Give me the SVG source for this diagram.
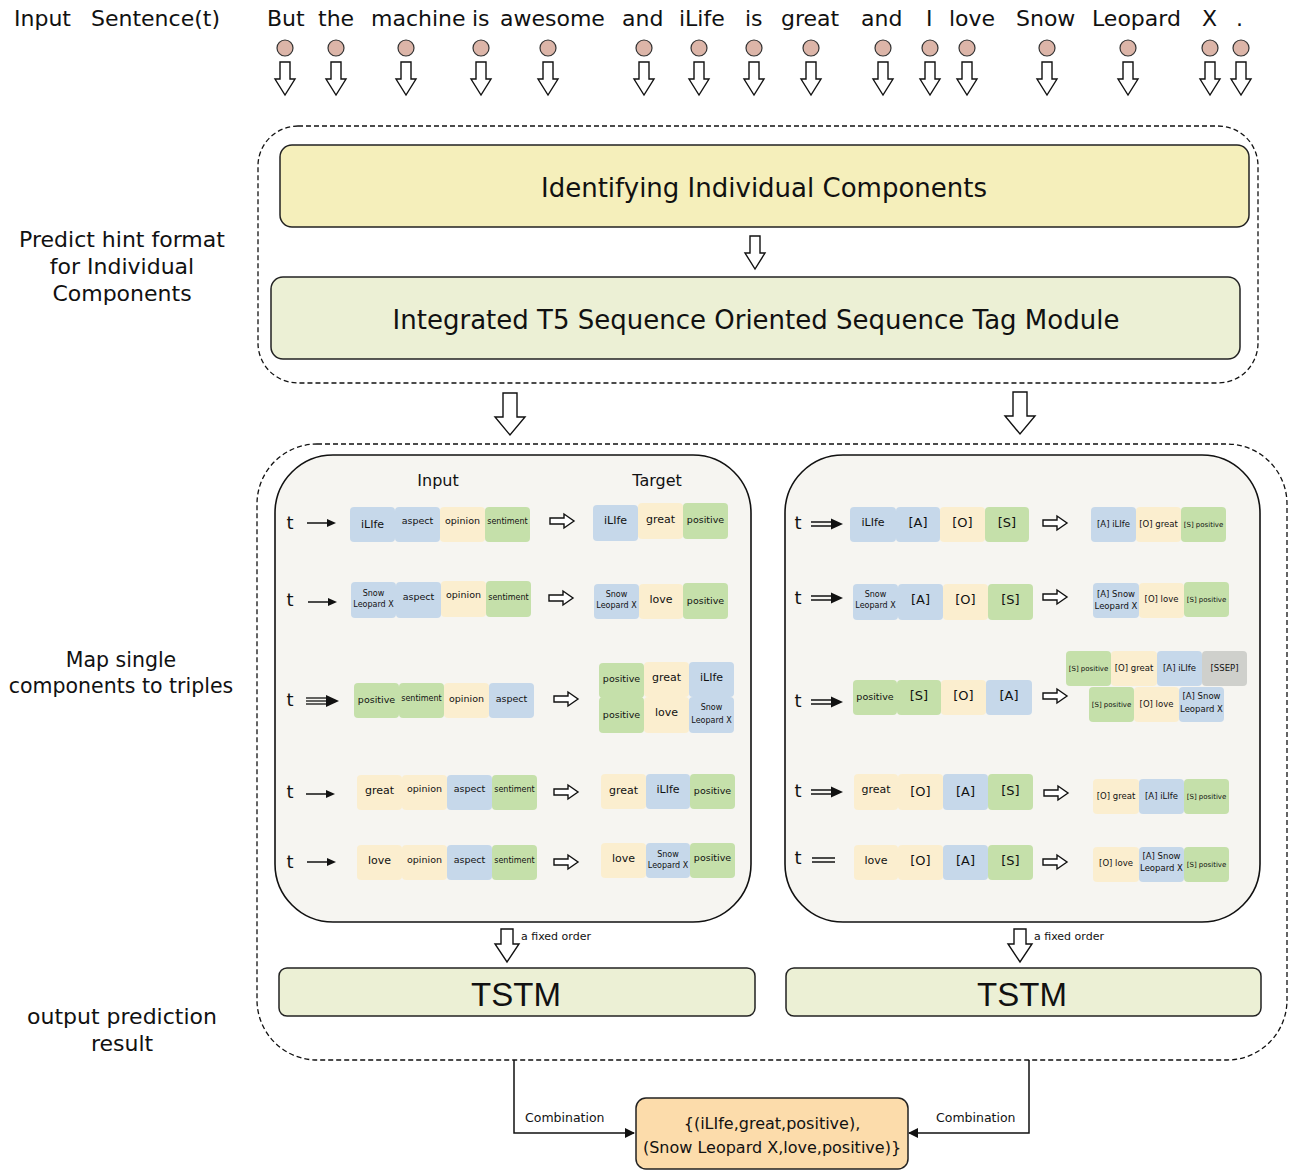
<svg xmlns="http://www.w3.org/2000/svg" xmlns:xlink="http://www.w3.org/1999/xlink" width="1298" height="1170" viewBox="0 0 1298 1170">
<style>
text{font-family:"DejaVu Sans","Verdana",sans-serif;fill:#111}
.lbl{font-size:22px;text-anchor:middle}
.w{font-size:22px}
.big{font-size:26px;text-anchor:middle}
.hd{font-size:16px;text-anchor:middle}
.t{font-size:18px;text-anchor:middle}
.c{text-anchor:middle}
.s11{font-size:11px}.s13{font-size:13px}.s95{font-size:9.5px}.s8{font-size:8px}.s85{font-size:8.5px}.s7{font-size:7px}
.cb{fill:#c6d8ea}.cy{fill:#fbeecf}.cg{fill:#c5e0aa}.cgr{fill:#cfd0cc}
.hollow{fill:#fff;stroke:#111;stroke-width:1.4;stroke-linejoin:miter}
.dash{fill:none;stroke:#111;stroke-width:1.3;stroke-dasharray:5 3}
.panel{fill:#f6f5f1;stroke:#111;stroke-width:1.6}
.box{stroke:#222;stroke-width:1.5}
.ln{stroke:#111;stroke-width:1.5;fill:none}
.tok{fill:#dcb5a8;stroke:#333;stroke-width:1.2}
</style>
<defs>
<path id="da" class="hollow" d="M-5,0 H5 V17 H10 L0,33 L-10,17 H-5 Z"/>
<path id="dbig" class="hollow" d="M-7,0 H7 V24 H15 L0,42 L-15,24 H-7 Z"/>
<path id="dfix" class="hollow" d="M-6,0 H6 V15 H12 L0,33 L-12,15 H-6 Z"/>
<path id="ha" class="hollow" d="M0,-3 H14 V-7 L24,0 L14,7 V3 H0 Z"/>
<g id="sa"><line x1="0" y1="0" x2="22" y2="0" stroke="#111" stroke-width="1.5"/><polygon points="20,-4 29,0 20,4" fill="#111"/></g>
<g id="dba"><line x1="0" y1="-2" x2="22" y2="-2" stroke="#111" stroke-width="1.5"/><line x1="0" y1="2" x2="22" y2="2" stroke="#111" stroke-width="1.5"/><polygon points="20,-5.5 32,0 20,5.5" fill="#111"/></g>
<g id="tra"><line x1="0" y1="-3" x2="22" y2="-3" stroke="#111" stroke-width="1.3"/><line x1="0" y1="0" x2="22" y2="0" stroke="#111" stroke-width="1.3"/><line x1="0" y1="3" x2="22" y2="3" stroke="#111" stroke-width="1.3"/><polygon points="20,-6 33,0 20,6" fill="#111"/></g>
<marker id="mk" markerWidth="10" markerHeight="10" refX="9" refY="5" orient="auto" markerUnits="userSpaceOnUse"><polygon points="0,0 10,5 0,10" fill="#111"/></marker>
</defs>

<!-- side labels -->
<g id="side-labels">
<text class="w" x="14" y="26">Input</text>
<text class="w" x="91" y="26">Sentence(t)</text>
<text class="lbl" x="122" y="247">Predict hint format</text>
<text class="lbl" x="122" y="274">for Individual</text>
<text class="lbl" x="122" y="301">Components</text>
<text class="lbl" x="121" y="667" style="font-size:20.5px">Map single</text>
<text class="lbl" x="121" y="693" style="font-size:20.5px">components to triples</text>
<text class="lbl" x="122" y="1024">output prediction</text>
<text class="lbl" x="122" y="1051">result</text>
</g>

<!-- input tokens -->
<g id="tokens">
<text class="w" x="267" y="26">But</text>
<text class="w" x="318" y="26">the</text>
<text class="w" x="371" y="26">machine</text>
<text class="w" x="472" y="26">is</text>
<text class="w" x="500" y="26">awesome</text>
<text class="w" x="622" y="26">and</text>
<text class="w" x="679" y="26">iLife</text>
<text class="w" x="745" y="26">is</text>
<text class="w" x="781" y="26">great</text>
<text class="w" x="861" y="26">and</text>
<text class="w" x="926" y="26">I</text>
<text class="w" x="949" y="26">love</text>
<text class="w" x="1016" y="26">Snow</text>
<text class="w" x="1092" y="26">Leopard</text>
<text class="w" x="1202" y="26">X</text>
<text class="w" x="1236" y="26">.</text>
<circle class="tok" cx="285" cy="48" r="8"/><circle class="tok" cx="336" cy="48" r="8"/><circle class="tok" cx="406" cy="48" r="8"/><circle class="tok" cx="481" cy="48" r="8"/><circle class="tok" cx="548" cy="48" r="8"/><circle class="tok" cx="644" cy="48" r="8"/><circle class="tok" cx="699" cy="48" r="8"/><circle class="tok" cx="754" cy="48" r="8"/><circle class="tok" cx="811" cy="48" r="8"/><circle class="tok" cx="883" cy="48" r="8"/><circle class="tok" cx="930" cy="48" r="8"/><circle class="tok" cx="967" cy="48" r="8"/><circle class="tok" cx="1047" cy="48" r="8"/><circle class="tok" cx="1128" cy="48" r="8"/><circle class="tok" cx="1210" cy="48" r="8"/><circle class="tok" cx="1241" cy="48" r="8"/>
</g>

<!-- containers -->
<g id="stage1">
<rect class="dash" x="258" y="126" width="1000" height="257" rx="40"/>
</g>
<g id="stage2">
<rect class="dash" x="257" y="444" width="1030" height="616" rx="60"/>
</g>

<g id="identify">
<rect class="box" x="280" y="145" width="969" height="82" rx="12" fill="#f5efbb"/>
<text class="big" x="764" y="197">Identifying Individual Components</text>
</g>
<g id="t5module">
<rect class="box" x="271" y="277" width="969" height="82" rx="12" fill="#ecf0d5"/>
<text class="big" x="756" y="329">Integrated T5 Sequence Oriented Sequence Tag Module</text>
</g>

<!-- connectors -->
<g id="connectors">
<use xlink:href="#da" x="285" y="62"/><use xlink:href="#da" x="336" y="62"/><use xlink:href="#da" x="406" y="62"/><use xlink:href="#da" x="481" y="62"/><use xlink:href="#da" x="548" y="62"/><use xlink:href="#da" x="644" y="62"/><use xlink:href="#da" x="699" y="62"/><use xlink:href="#da" x="754" y="62"/><use xlink:href="#da" x="811" y="62"/><use xlink:href="#da" x="883" y="62"/><use xlink:href="#da" x="930" y="62"/><use xlink:href="#da" x="967" y="62"/><use xlink:href="#da" x="1047" y="62"/><use xlink:href="#da" x="1128" y="62"/><use xlink:href="#da" x="1210" y="62"/><use xlink:href="#da" x="1241" y="62"/>
<use xlink:href="#da" x="755" y="236"/>
<use xlink:href="#dbig" x="510" y="393"/>
<use xlink:href="#dbig" x="1020" y="392"/>
<use xlink:href="#dfix" x="507" y="929"/>
<use xlink:href="#dfix" x="1020" y="929"/>
<text x="521" y="940" style="font-size:11px">a fixed order</text>
<text x="1034" y="940" style="font-size:11px">a fixed order</text>
<polyline class="ln" points="514,1060 514,1133 634,1133" marker-end="url(#mk)"/>
<polyline class="ln" points="1029,1060 1029,1133 909,1133" marker-end="url(#mk)"/>
<text x="525" y="1122" style="font-size:12.5px">Combination</text>
<text x="936" y="1122" style="font-size:12.5px">Combination</text>
</g>

<!-- left panel -->
<g id="panel-left">
<rect class="panel" x="275" y="455" width="476" height="467" rx="58"/>
<text class="hd" x="438" y="486">Input</text>
<text class="hd" x="657" y="486">Target</text>
<text class="t" x="290" y="529">t</text>
<text class="t" x="290" y="606">t</text>
<text class="t" x="290" y="706">t</text>
<text class="t" x="290" y="798">t</text>
<text class="t" x="290" y="868">t</text>
<use xlink:href="#sa" x="307" y="523"/>
<use xlink:href="#sa" x="308" y="602"/>
<use xlink:href="#tra" x="306" y="701"/>
<use xlink:href="#sa" x="306" y="794"/>
<use xlink:href="#sa" x="307" y="862"/>
<use xlink:href="#ha" x="550" y="521"/>
<use xlink:href="#ha" x="549" y="598"/>
<use xlink:href="#ha" x="554" y="699"/>
<use xlink:href="#ha" x="554" y="792"/>
<use xlink:href="#ha" x="554" y="862"/>
<!-- row1 -->
<rect class="cb" x="350" y="507" width="45" height="35" rx="4"/><text class="c s11" x="372.5" y="528">iLIfe</text>
<rect class="cb" x="395" y="507" width="45" height="35" rx="4"/><text class="c s95" x="417.5" y="524">aspect</text>
<rect class="cy" x="440" y="507" width="45" height="35" rx="4"/><text class="c s95" x="462.5" y="524">opinion</text>
<rect class="cg" x="485" y="507" width="45" height="35" rx="4"/><text class="c s8" x="507.5" y="524">sentiment</text>
<rect class="cb" x="593" y="505" width="45" height="36" rx="4"/><text class="c s11" x="615.5" y="524">iLIfe</text>
<rect class="cy" x="638" y="503" width="45" height="36" rx="4"/><text class="c s11" x="660.5" y="523">great</text>
<rect class="cg" x="683" y="503" width="45" height="36" rx="4"/><text class="c s95" x="705.5" y="523">positive</text>
<!-- row2 -->
<rect class="cb" x="351" y="582" width="45" height="36" rx="4"/><text class="c s8" x="373.5" y="596">Snow</text><text class="c s8" x="373.5" y="607">Leopard X</text>
<rect class="cb" x="396" y="582" width="45" height="36" rx="4"/><text class="c s95" x="418.5" y="600">aspect</text>
<rect class="cy" x="441" y="581" width="45" height="36" rx="4"/><text class="c s95" x="463.5" y="598">opinion</text>
<rect class="cg" x="486" y="581" width="45" height="36" rx="4"/><text class="c s8" x="508.5" y="600">sentiment</text>
<rect class="cb" x="594" y="584" width="45" height="35" rx="4"/><text class="c s8" x="616.5" y="597">Snow</text><text class="c s8" x="616.5" y="608">Leopard X</text>
<rect class="cy" x="639" y="584" width="44" height="35" rx="4"/><text class="c s11" x="661" y="603">love</text>
<rect class="cg" x="683" y="583" width="45" height="36" rx="4"/><text class="c s95" x="705.5" y="604">positive</text>
<!-- row3 -->
<rect class="cg" x="354" y="683" width="45" height="35" rx="4"/><text class="c s95" x="376.5" y="703">positive</text>
<rect class="cg" x="399" y="683" width="45" height="35" rx="4"/><text class="c s8" x="421.5" y="701">sentiment</text>
<rect class="cy" x="444" y="683" width="45" height="35" rx="4"/><text class="c s95" x="466.5" y="702">opinion</text>
<rect class="cb" x="489" y="683" width="45" height="35" rx="4"/><text class="c s95" x="511.5" y="702">aspect</text>
<rect class="cg" x="599" y="663" width="45" height="35" rx="4"/><text class="c s95" x="621.5" y="682">positive</text>
<rect class="cy" x="644" y="662" width="45" height="35" rx="4"/><text class="c s11" x="666.5" y="681">great</text>
<rect class="cb" x="689" y="662" width="45" height="35" rx="4"/><text class="c s11" x="711.5" y="681">iLIfe</text>
<rect class="cg" x="599" y="697" width="45" height="36" rx="4"/><text class="c s95" x="621.5" y="718">positive</text>
<rect class="cy" x="644" y="697" width="45" height="36" rx="4"/><text class="c s11" x="666.5" y="716">love</text>
<rect class="cb" x="689" y="697" width="45" height="36" rx="4"/><text class="c s8" x="711.5" y="710">Snow</text><text class="c s8" x="711.5" y="723">Leopard X</text>
<!-- row4 -->
<rect class="cy" x="357" y="775" width="45" height="35" rx="4"/><text class="c s11" x="379.5" y="794">great</text>
<rect class="cy" x="402" y="775" width="45" height="35" rx="4"/><text class="c s95" x="424.5" y="792">opinion</text>
<rect class="cb" x="447" y="775" width="45" height="35" rx="4"/><text class="c s95" x="469.5" y="792">aspect</text>
<rect class="cg" x="492" y="775" width="45" height="35" rx="4"/><text class="c s8" x="514.5" y="792">sentiment</text>
<rect class="cy" x="601" y="774" width="45" height="35" rx="4"/><text class="c s11" x="623.5" y="794">great</text>
<rect class="cb" x="646" y="774" width="44" height="35" rx="4"/><text class="c s11" x="668" y="793">iLIfe</text>
<rect class="cg" x="690" y="774" width="45" height="35" rx="4"/><text class="c s95" x="712.5" y="794">positive</text>
<!-- row5 -->
<rect class="cy" x="357" y="845" width="45" height="35" rx="4"/><text class="c s11" x="379.5" y="864">love</text>
<rect class="cy" x="402" y="845" width="45" height="35" rx="4"/><text class="c s95" x="424.5" y="863">opinion</text>
<rect class="cb" x="447" y="845" width="45" height="35" rx="4"/><text class="c s95" x="469.5" y="863">aspect</text>
<rect class="cg" x="492" y="845" width="45" height="35" rx="4"/><text class="c s8" x="514.5" y="863">sentiment</text>
<rect class="cy" x="601" y="843" width="45" height="35" rx="4"/><text class="c s11" x="623.5" y="862">love</text>
<rect class="cb" x="646" y="843" width="44" height="35" rx="4"/><text class="c s8" x="668" y="857">Snow</text><text class="c s8" x="668" y="868">Leopard X</text>
<rect class="cg" x="690" y="843" width="45" height="35" rx="4"/><text class="c s95" x="712.5" y="861">positive</text>
</g>

<!-- right panel -->
<g id="panel-right">
<rect class="panel" x="785" y="455" width="475" height="467" rx="58"/>
<text class="t" x="798" y="529">t</text>
<text class="t" x="798" y="604">t</text>
<text class="t" x="798" y="707">t</text>
<text class="t" x="798" y="797">t</text>
<text class="t" x="798" y="864">t</text>
<use xlink:href="#dba" x="811" y="524"/>
<use xlink:href="#dba" x="811" y="598"/>
<use xlink:href="#dba" x="811" y="702"/>
<use xlink:href="#dba" x="811" y="792"/>
<line x1="812" y1="858" x2="835" y2="858" stroke="#111" stroke-width="1.5"/><line x1="812" y1="862" x2="835" y2="862" stroke="#111" stroke-width="1.5"/>
<use xlink:href="#ha" x="1043" y="523"/>
<use xlink:href="#ha" x="1043" y="597"/>
<use xlink:href="#ha" x="1043" y="696"/>
<use xlink:href="#ha" x="1044" y="793"/>
<use xlink:href="#ha" x="1043" y="862"/>
<!-- row1 -->
<rect class="cb" x="850" y="507" width="46" height="35" rx="4"/><text class="c s11" x="873" y="526">iLIfe</text>
<rect class="cb" x="896" y="507" width="44" height="35" rx="4"/><text class="c s13" x="918" y="527">[A]</text>
<rect class="cy" x="940" y="507" width="45" height="35" rx="4"/><text class="c s13" x="962.5" y="527">[O]</text>
<rect class="cg" x="985" y="507" width="44" height="35" rx="4"/><text class="c s13" x="1007" y="527">[S]</text>
<rect class="cb" x="1091" y="507" width="45" height="35" rx="4"/><text class="c s85" x="1113.5" y="527">[A] iLIfe</text>
<rect class="cy" x="1136" y="507" width="45" height="35" rx="4"/><text class="c s85" x="1158.5" y="527">[O] great</text>
<rect class="cg" x="1181" y="507" width="45" height="35" rx="4"/><text class="c s7" x="1203.5" y="527">[S] positive</text>
<!-- row2 -->
<rect class="cb" x="853" y="584" width="45" height="36" rx="4"/><text class="c s8" x="875.5" y="597">Snow</text><text class="c s8" x="875.5" y="608">Leopard X</text>
<rect class="cb" x="898" y="584" width="45" height="36" rx="4"/><text class="c s13" x="920.5" y="604">[A]</text>
<rect class="cy" x="943" y="584" width="45" height="36" rx="4"/><text class="c s13" x="965.5" y="604">[O]</text>
<rect class="cg" x="988" y="584" width="45" height="36" rx="4"/><text class="c s13" x="1010.5" y="604">[S]</text>
<rect class="cb" x="1093" y="583" width="46" height="35" rx="4"/><text class="c s85" x="1116" y="597">[A] Snow</text><text class="c s85" x="1116" y="609">Leopard X</text>
<rect class="cy" x="1139" y="583" width="45" height="35" rx="4"/><text class="c s85" x="1161.5" y="602">[O] love</text>
<rect class="cg" x="1184" y="582" width="45" height="35" rx="4"/><text class="c s7" x="1206.5" y="602">[S] positive</text>
<!-- row3 -->
<rect class="cg" x="853" y="680" width="44" height="35" rx="4"/><text class="c s95" x="875" y="700">positive</text>
<rect class="cg" x="897" y="680" width="44" height="35" rx="4"/><text class="c s13" x="919" y="700">[S]</text>
<rect class="cy" x="941" y="680" width="45" height="35" rx="4"/><text class="c s13" x="963.5" y="700">[O]</text>
<rect class="cb" x="986" y="680" width="46" height="35" rx="4"/><text class="c s13" x="1009" y="700">[A]</text>
<rect class="cg" x="1066" y="651" width="45" height="35" rx="4"/><text class="c s7" x="1088.5" y="671">[S] positive</text>
<rect class="cy" x="1111" y="651" width="46" height="35" rx="4"/><text class="c s85" x="1134" y="671">[O] great</text>
<rect class="cb" x="1157" y="651" width="45" height="35" rx="4"/><text class="c s85" x="1179.5" y="671">[A] iLIfe</text>
<rect class="cgr" x="1202" y="651" width="45" height="35" rx="4"/><text class="c s85" x="1224.5" y="671">[SSEP]</text>
<rect class="cg" x="1089" y="687" width="45" height="35" rx="4"/><text class="c s7" x="1111.5" y="707">[S] positive</text>
<rect class="cy" x="1134" y="687" width="45" height="35" rx="4"/><text class="c s85" x="1156.5" y="707">[O] love</text>
<rect class="cb" x="1179" y="687" width="45" height="35" rx="4"/><text class="c s85" x="1201.5" y="699">[A] Snow</text><text class="c s85" x="1201.5" y="712">Leopard X</text>
<!-- row4 -->
<rect class="cy" x="854" y="774" width="44" height="36" rx="4"/><text class="c s11" x="876" y="793">great</text>
<rect class="cy" x="898" y="774" width="45" height="36" rx="4"/><text class="c s13" x="920.5" y="796">[O]</text>
<rect class="cb" x="943" y="774" width="45" height="36" rx="4"/><text class="c s13" x="965.5" y="796">[A]</text>
<rect class="cg" x="988" y="774" width="45" height="36" rx="4"/><text class="c s13" x="1010.5" y="795">[S]</text>
<rect class="cy" x="1093" y="779" width="46" height="35" rx="4"/><text class="c s85" x="1116" y="799">[O] great</text>
<rect class="cb" x="1139" y="779" width="45" height="35" rx="4"/><text class="c s85" x="1161.5" y="799">[A] iLIfe</text>
<rect class="cg" x="1184" y="779" width="45" height="35" rx="4"/><text class="c s7" x="1206.5" y="799">[S] positive</text>
<!-- row5 -->
<rect class="cy" x="854" y="845" width="44" height="35" rx="4"/><text class="c s11" x="876" y="864">love</text>
<rect class="cy" x="898" y="845" width="45" height="35" rx="4"/><text class="c s13" x="920.5" y="865">[O]</text>
<rect class="cb" x="943" y="845" width="45" height="35" rx="4"/><text class="c s13" x="965.5" y="865">[A]</text>
<rect class="cg" x="988" y="845" width="45" height="35" rx="4"/><text class="c s13" x="1010.5" y="865">[S]</text>
<rect class="cy" x="1093" y="847" width="46" height="35" rx="4"/><text class="c s85" x="1116" y="866">[O] love</text>
<rect class="cb" x="1139" y="847" width="45" height="35" rx="4"/><text class="c s85" x="1161.5" y="859">[A] Snow</text><text class="c s85" x="1161.5" y="871">Leopard X</text>
<rect class="cg" x="1184" y="847" width="45" height="35" rx="4"/><text class="c s7" x="1206.5" y="867">[S] positive</text>
</g>

<g id="tstm-left">
<rect class="box" x="279" y="968" width="476" height="48" rx="8" fill="#ecf0d5"/>
<text x="516" y="1006" style="font-family:'Liberation Sans',Arial,sans-serif;font-size:33px;text-anchor:middle">TSTM</text>
</g>
<g id="tstm-right">
<rect class="box" x="786" y="968" width="475" height="48" rx="8" fill="#ecf0d5"/>
<text x="1022" y="1006" style="font-family:'Liberation Sans',Arial,sans-serif;font-size:33px;text-anchor:middle">TSTM</text>
</g>

<g id="result">
<rect class="box" x="636" y="1098" width="272" height="71" rx="10" fill="#fcdcab"/>
<text x="772" y="1129" style="font-size:16px;text-anchor:middle">{(iLIfe,great,positive),</text>
<text x="772" y="1153" style="font-size:16px;text-anchor:middle">(Snow Leopard X,love,positive)}</text>
</g>
</svg>
